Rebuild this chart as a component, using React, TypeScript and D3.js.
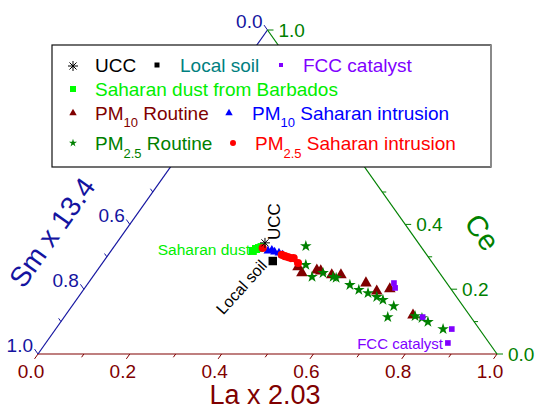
import React from 'react';
import * as d3 from 'd3';

// ternary values, as [La x 2.03, Ce]  (Sm x 13.4 = 1 - La - Ce)
const uccPts = [[0.323, 0.343]];
const localSoilPts = [[0.368, 0.287]];
const fccPts = [[0.666, 0.219], [0.676, 0.204], [0.781, 0.114], [0.863, 0.077], [0.876, 0.034]];
const saharanDustPts = [[0.309, 0.318], [0.313, 0.324], [0.318, 0.327], [0.322, 0.33]];
const pm10RoutinePts = [
  [0.432, 0.269], [0.45, 0.25], [0.478, 0.259], [0.488, 0.256], [0.518, 0.244], [0.538, 0.244],
  [0.605, 0.219], [0.641, 0.194], [0.666, 0.201], [0.757, 0.12],
];
const pm10SaharanPts = [[0.342, 0.318], [0.349, 0.321], [0.358, 0.315], [0.369, 0.312], [0.38, 0.306]];
const pm25RoutinePts = [
  [0.417, 0.333], [0.446, 0.275], [0.478, 0.238], [0.496, 0.25], [0.524, 0.238], [0.532, 0.235],
  [0.573, 0.213], [0.6, 0.198], [0.625, 0.188], [0.65, 0.176], [0.668, 0.167], [0.701, 0.148],
  [0.705, 0.114], [0.763, 0.117], [0.781, 0.111], [0.8, 0.099], [0.844, 0.077],
];
const pm25SaharanPts = [
  [0.326, 0.327], [0.378, 0.306], [0.387, 0.302], [0.395, 0.299], [0.403, 0.296], [0.409, 0.296], [0.426, 0.281],
];

const ticks = d3.range(0, 1.0001, 0.1);
const fmt = d3.format('.1f');

const cLa = '#800000';
const cSm = '#1414a0';
const cCe = '#008000';
const font = "'Liberation Sans', Arial, sans-serif";

const x = d3.scaleLinear().domain([0, 1]).range([38, 497]);
const y = d3.scaleLinear().domain([0, 1]).range([354, 30]);
const proj = (la: number, ce: number): [number, number] => [x(la + ce / 2), y(ce)];

// legend box
const LG = { x0: 52, y0: 45, x1: 491, y1: 167 };
const underLegend = (p: [number, number]) =>
  p[0] > LG.x0 - 20 && p[0] < LG.x1 + 20 && p[1] > LG.y0 - 10 && p[1] < LG.y1 + 6;

const asterisk = (r: number) => {
  const p = d3.path();
  for (let k = 0; k < 4; k++) {
    const a = (k * Math.PI) / 4;
    p.moveTo(-r * Math.cos(a), -r * Math.sin(a));
    p.lineTo(r * Math.cos(a), r * Math.sin(a));
  }
  return p.toString();
};
const sym = (type: any, size: number) => d3.symbol().type(type).size(size)() as string;

function Marks({ pts, d, fill, stroke }: { pts: number[][]; d: string; fill: string; stroke?: string }) {
  return (
    <g>
      {pts.map((p, i) => {
        const [px, py] = proj(p[0], p[1]);
        return <path key={i} d={d} transform={`translate(${px},${py})`} fill={fill} stroke={stroke ?? 'none'} strokeWidth={1} />;
      })}
    </g>
  );
}

export default function App() {
  const A = proj(0, 1);
  const BL = proj(0, 0);
  const BR = proj(1, 0);
  const norm = (v: [number, number]) => { const l = Math.hypot(v[0], v[1]); return [v[0] / l, v[1] / l]; };
  const dBottom = norm([BL[0] - A[0], BL[1] - A[1]]);
  const dLeft = norm([A[0] - BR[0], A[1] - BR[1]]);
  const dRight = [1, 0];

  const tickLen = (i: number) => (i % 2 === 0 ? 6 : 4);

  return (
    <svg width={537} height={409} style={{ position: 'absolute', left: 0, top: 0 }} fontFamily={font}>
      {/* axes */}
      <line x1={BL[0]} y1={BL[1]} x2={BR[0]} y2={BR[1]} stroke={cLa} strokeWidth={1.2} />
      <line x1={BL[0]} y1={BL[1]} x2={A[0]} y2={A[1]} stroke={cSm} strokeWidth={1.2} />
      <line x1={BR[0]} y1={BR[1]} x2={A[0]} y2={A[1]} stroke={cCe} strokeWidth={1.2} />

      {ticks.map((t, i) => {
        const pb = proj(t, 0);
        const pr = proj(1 - t, t);
        const pl = proj(0, 1 - t);
        const L = tickLen(i);
        return (
          <g key={i}>
            <line x1={pb[0]} y1={pb[1]} x2={pb[0] + dBottom[0] * L} y2={pb[1] + dBottom[1] * L} stroke={cLa} />
            <line x1={pr[0]} y1={pr[1]} x2={pr[0] + dRight[0] * L} y2={pr[1] + dRight[1] * L} stroke={cCe} />
            <line x1={pl[0]} y1={pl[1]} x2={pl[0] + dLeft[0] * L} y2={pl[1] + dLeft[1] * L} stroke={cSm} />
            {i % 2 === 0 && (
              <>
                <text x={pb[0] - 7} y={pb[1] + 24} fill={cLa} fontSize={19} textAnchor="middle">{fmt(t)}</text>
                {!underLegend(pr) && <text x={pr[0] + 11} y={pr[1] + 6.5} fill={cCe} fontSize={19}>{fmt(t)}</text>}
                {!underLegend(pl) && <text x={pl[0] - 5} y={pl[1] - 2} fill={cSm} fontSize={19} textAnchor="end">{fmt(t)}</text>}
              </>
            )}
          </g>
        );
      })}

      {/* axis titles */}
      <text x={265} y={404} fill={cLa} fontSize={27} textAnchor="middle">La x 2.03</text>
      <text transform="translate(60,238) rotate(-54.7)" fill={cSm} fontSize={28} textAnchor="middle">Sm x 13.4</text>
      <text transform="translate(474,238) rotate(54.7)" fill={cCe} fontSize={29} textAnchor="middle">Ce</text>

      {/* data */}
      <Marks pts={saharanDustPts} d={sym(d3.symbolSquare, 64)} fill="#00ff00" />
      <Marks pts={pm10RoutinePts} d={sym(d3.symbolTriangle, 58)} fill="#800000" />
      <Marks pts={pm25RoutinePts} d={sym(d3.symbolStar, 42)} fill="#008000" />
      <Marks pts={fccPts} d={sym(d3.symbolSquare, 32)} fill="#8000ff" />
      <Marks pts={pm10SaharanPts} d={sym(d3.symbolTriangle, 34)} fill="#0000ff" />
      <Marks pts={pm25SaharanPts} d={sym(d3.symbolCircle, 52)} fill="#ff0000" />
      <Marks pts={localSoilPts} d={sym(d3.symbolSquare, 72)} fill="#000000" />
      <Marks pts={uccPts} d={asterisk(5)} fill="none" stroke="#000000" />

      {/* annotations */}
      <text x={250} y={255} fill="#00ee00" fontSize={15.5} textAnchor="end">Saharan dust</text>
      <text transform="translate(280,240) rotate(-90)" fill="#000" fontSize={17}>UCC</text>
      <text transform="translate(268,266) rotate(-48)" fill="#000" fontSize={16} textAnchor="end">Local soil</text>
      <text x={443} y={349} fill="#8000ff" fontSize={15} textAnchor="end">FCC catalyst</text>

      {/* legend */}
      <rect x={LG.x0} y={LG.y0} width={LG.x1 - LG.x0} height={LG.y1 - LG.y0} fill="#fff" stroke="#111" strokeWidth={1.2} />
      <line x1={LG.x1} y1={LG.y0} x2={LG.x1} y2={LG.y1} stroke="#8a8a8a" strokeWidth={2} />
      <g fontSize={19}>
        <path d={asterisk(5)} transform="translate(73,66)" stroke="#000" fill="none" />
        <text x={95} y={72} fill="#000">UCC</text>
        <path d={sym(d3.symbolSquare, 25)} transform="translate(157,65)" fill="#000" />
        <text x={180} y={72} fill="#008080">Local soil</text>
        <path d={sym(d3.symbolSquare, 16)} transform="translate(281,65)" fill="#8000ff" />
        <text x={303} y={72} fill="#8000ff">FCC catalyst</text>

        <path d={sym(d3.symbolSquare, 36)} transform="translate(73,89)" fill="#00ff00" />
        <text x={95} y={96} fill="#00ee00">Saharan dust from Barbados</text>

        <path d={sym(d3.symbolTriangle, 24)} transform="translate(73,113)" fill="#800000" />
        <text x={95} y={120} fill="#800000">PM<tspan fontSize={13} dy={7}>10</tspan><tspan dy={-7}> Routine</tspan></text>
        <path d={sym(d3.symbolTriangle, 24)} transform="translate(229,113)" fill="#0000ff" />
        <text x={252} y={120} fill="#0000ff">PM<tspan fontSize={13} dy={7}>10</tspan><tspan dy={-7}> Saharan intrusion</tspan></text>

        <path d={sym(d3.symbolStar, 20)} transform="translate(73,143)" fill="#008000" />
        <text x={95} y={150} fill="#008000">PM<tspan fontSize={13} dy={8}>2.5</tspan><tspan dy={-8}> Routine</tspan></text>
        <path d={sym(d3.symbolCircle, 28)} transform="translate(233,143)" fill="#ff0000" />
        <text x={255} y={150} fill="#ff0000">PM<tspan fontSize={13} dy={8}>2.5</tspan><tspan dy={-8}> Saharan intrusion</tspan></text>
      </g>
    </svg>
  );
}
